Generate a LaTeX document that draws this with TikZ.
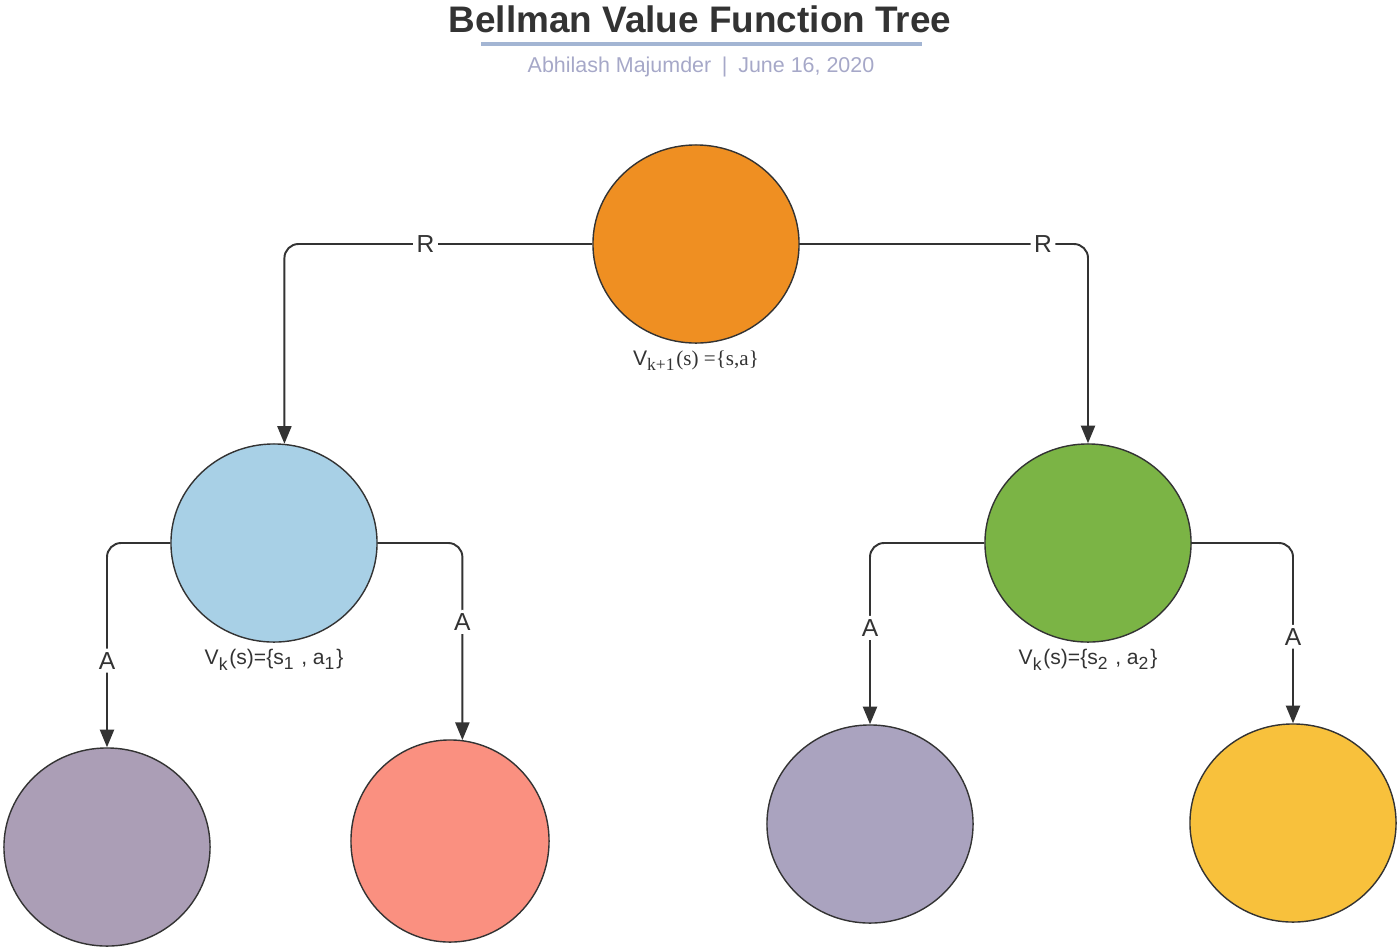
\documentclass[tikz,border=0pt]{standalone}
\usepackage{fontspec}
\setmainfont{Liberation Serif}
\setsansfont{Liberation Sans}
\usepackage{tikz}
\usetikzlibrary{arrows.meta,positioning,shapes.geometric}
\definecolor{linegray}{HTML}{333333}
\definecolor{rootorange}{HTML}{EF8F22}
\definecolor{leftblue}{HTML}{A8D0E6}
\definecolor{rightgreen}{HTML}{7BB445}
\definecolor{leafpurple}{HTML}{AB9EB6}
\definecolor{leafsalmon}{HTML}{FA9080}
\definecolor{leafgray}{HTML}{AAA3BF}
\definecolor{leafyellow}{HTML}{F8C13C}
\definecolor{rulecol}{HTML}{A3B5D3}
\definecolor{bylinecol}{HTML}{A6A8C8}

\begin{document}
\begin{tikzpicture}[x=0.01cm, y=-0.01cm,
		state/.style={ellipse, draw=linegray, line width=0.4pt, minimum width=2.06cm, minimum height=1.98cm, inner sep=0pt},
		edge/.style={draw=linegray, line width=0.55pt, rounded corners=4pt, -{Triangle[length=5pt,width=4pt]}},
		lab/.style={fill=white, inner sep=1pt, text=linegray, font=\sffamily\fontsize{7}{8}\selectfont},
		vlab/.style={inner sep=0pt, text=linegray, font=\sffamily\fontsize{6}{7}\selectfont}]
			%%%%% START %%%%%
			
			\useasboundingbox (0,0) rectangle (1400,951);
			
			% heading
			\node (title) at (700,19) {\sffamily\bfseries\fontsize{10.5}{12}\selectfont\color{linegray}Bellman Value Function Tree};
			\draw[rulecol, line width=0.9pt] (481,44) -- (922,44);
			\node (byline) at (701,67) {\sffamily\fontsize{6.1}{7}\selectfont\color{bylinecol}Abhilash Majumder\enspace|\enspace June 16, 2020};
			
			% states
			\node[state, fill=rootorange] (root) at (696,244) {};
			\node[state, fill=leftblue] (lt) at (274,543) {};
			\node[state, fill=rightgreen] (rt) at (1088,543) {};
			
			\node[state, fill=leafpurple] (ll) at (107,847) {};
			\node[state, fill=leafsalmon, minimum width=1.98cm, minimum height=2.02cm] (lr) at (450,841) {};
			\node[state, fill=leafgray] (rl) at (870,824) {};
			\node[state, fill=leafyellow] (rr) at (1293,823) {};
			
			% value labels
			\node[vlab, below=0.06cm of root] (rootlab) {V{\rmfamily\textsubscript{k+1}(s) =\{s,a\}}};
			\node[vlab, below=0.06cm of lt] (ltlab) {V\textsubscript{k}(s)=\{s\textsubscript{1} , a\textsubscript{1}\}};
			\node[vlab, below=0.06cm of rt] (rtlab) {V\textsubscript{k}(s)=\{s\textsubscript{2} , a\textsubscript{2}\}};
			
			% transitions
			\draw[edge] (root.west) -| node[lab, pos=0.271] {R} (lt.84);
			\draw[edge] (root.east) -| node[lab, pos=0.422] {R} (rt.north);
			
			\draw[edge] (lt.west) -| node[lab, pos=0.788] {A} (ll.north);
			\draw[edge] (lt.east) -| node[lab, pos=0.70] {A} (lr.83);
			\draw[edge] (rt.west) -| node[lab, pos=0.734] {A} (rl.north);
			\draw[edge] (rt.east) -| node[lab, pos=0.76] {A} (rr.north);
			
			%%%%% END %%%%%
		\end{tikzpicture}
\end{document}
